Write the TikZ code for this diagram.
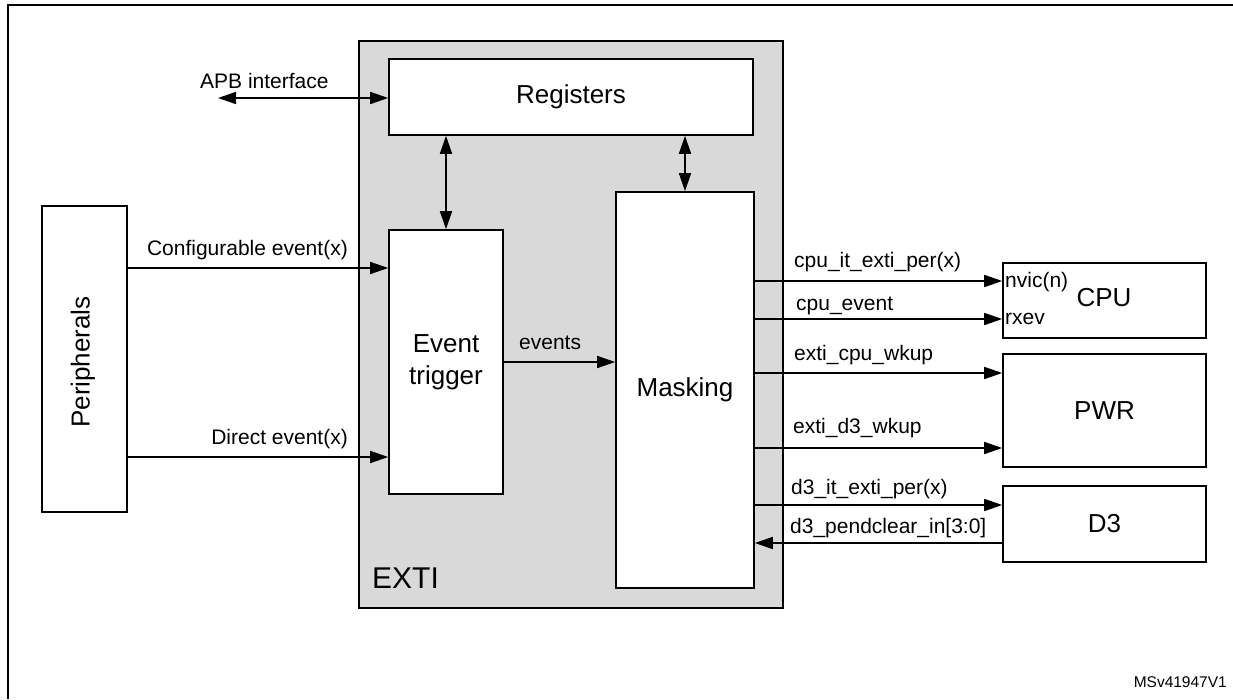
\documentclass[tikz,border=0pt]{standalone}
\usepackage{fontspec}
\setmainfont{Liberation Sans}
\usetikzlibrary{arrows.meta}
\definecolor{extigray}{RGB}{217,217,217}
\tikzset{
  blk/.style={draw, line width=1.6pt, fill=white, inner sep=0pt, font=\fontsize{26}{32}\selectfont, align=center},
  lbl/.style={font=\fontsize{21}{25}\selectfont, inner sep=0pt},
  arr/.style={line width=1.6pt, -{Triangle[length=18pt,width=12pt]}},
  dbl/.style={line width=1.6pt, {Triangle[length=18pt,width=12pt]}-{Triangle[length=18pt,width=12pt]}},
}
\begin{document}
\begin{tikzpicture}[x=1pt,y=-1pt]
\useasboundingbox (0,0) rectangle (1233,699);
% outer frame (cropped)
\draw[line width=2.5pt] (8,699) -- (8,5) -- (1233,5);
% EXTI block
\node[draw, line width=1.6pt, fill=extigray, minimum width=424pt, minimum height=567pt, inner sep=0pt] (exti) at (571,324.5) {};
\node[font=\fontsize{30}{36}\selectfont, inner sep=0pt, anchor=base west] (extilbl) at (372,588) {EXTI};
% boxes
\node[blk, minimum width=364pt, minimum height=76pt] (regs) at (571,97) {Registers};
\node[blk, minimum width=114pt, minimum height=264pt] (evt) at (446,362) {Event\\trigger};
\node[blk, minimum width=138pt, minimum height=396pt] (mask) at (685,390) {Masking};
\node[blk, minimum width=85pt, minimum height=306pt] (peri) at (84.5,359) {};
\node[font=\fontsize{26}{32}\selectfont, rotate=90, inner sep=0pt] (perilbl) at (83,362) {Peripherals};
\node[blk, minimum width=203pt, minimum height=75pt] (cpu) at (1104.5,300.5) {};
\node[font=\fontsize{26}{32}\selectfont, inner sep=0pt] (cpulbl) at (1104,298) {CPU};
\node[blk, minimum width=203pt, minimum height=113pt] (pwr) at (1104.5,410.5) {PWR};
\node[blk, minimum width=203pt, minimum height=76pt] (d3) at (1104.5,524) {D3};
% free positions
\coordinate (apb) at (218,98);
\coordinate (ycfg) at (0,268);
\coordinate (ydir) at (0,457);
\coordinate (y1) at (0,281);
\coordinate (y2) at (0,319);
\coordinate (y3) at (0,373);
\coordinate (y4) at (0,448);
\coordinate (y5) at (0,505);
\coordinate (y6) at (0,543);
% connectors
\draw[dbl] (apb) -- (regs.west |- apb);
\draw[dbl] (evt.north |- regs.south) -- (evt.north);
\draw[dbl] (mask.north |- regs.south) -- (mask.north);
\draw[arr] (peri.east |- ycfg) -- (evt.west |- ycfg);
\draw[arr] (peri.east |- ydir) -- (evt.west |- ydir);
\draw[arr] (evt.east) -- (mask.west |- evt.east);
\draw[arr] (mask.east |- y1) -- (cpu.west |- y1);
\draw[arr] (mask.east |- y2) -- (cpu.west |- y2);
\draw[arr] (mask.east |- y3) -- (pwr.west |- y3);
\draw[arr] (mask.east |- y4) -- (pwr.west |- y4);
\draw[arr] (mask.east |- y5) -- (d3.west |- y5);
\draw[arr] (d3.west |- y6) -- (mask.east |- y6);
% labels
\node[lbl, anchor=base west] (lapb) at (200,88) {APB interface};
\node[lbl, anchor=base east] (lcfg) at (348,255) {Configurable event(x)};
\node[lbl, anchor=base east] (ldir) at (348,444) {Direct event(x)};
\node[lbl, anchor=base west] (levt) at (519,349) {events};
\node[lbl, anchor=base west] (l1) at (794,267) {cpu\_it\_exti\_per(x)};
\node[lbl, anchor=base west] (l2) at (796,310) {cpu\_event};
\node[lbl, anchor=base west] (l3) at (794,360) {exti\_cpu\_wkup};
\node[lbl, anchor=base west] (l4) at (793,433) {exti\_d3\_wkup};
\node[lbl, anchor=base west] (l5) at (791,494) {d3\_it\_exti\_per(x)};
\node[lbl, anchor=base west] (l6) at (790,533) {d3\_pendclear\_in[3:0]};
\node[lbl, anchor=base west] (lnvic) at (1005,287) {nvic(n)};
\node[lbl, anchor=base west] (lrxev) at (1005,324) {rxev};
\node[font=\fontsize{15.5}{18}\selectfont, inner sep=0pt, anchor=base east] (msv) at (1227,687) {MSv41947V1};
\end{tikzpicture}
\end{document}
